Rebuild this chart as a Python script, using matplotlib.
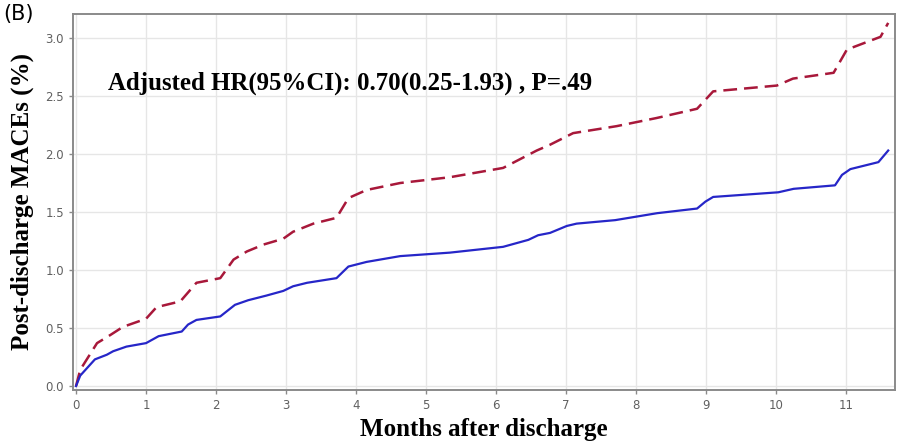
"""Cumulative post-discharge MACEs, panel (B)."""

import numpy as np
import matplotlib
matplotlib.use("Agg")
import matplotlib.pyplot as plt

# Dashed (red) group
red_months = [0.0, 0.06, 0.30, 0.49, 0.67, 1.00, 1.15, 1.49, 1.72, 2.06,
              2.25, 2.44, 2.68, 2.96, 3.10, 3.39, 3.72, 3.89, 4.15, 4.63,
              5.34, 6.10, 6.58, 6.77, 7.10, 7.72, 8.29, 8.87, 9.10, 10.01,
              10.24, 10.82, 11.01, 11.49, 11.60]
red_maces = [0.00, 0.14, 0.37, 0.44, 0.51, 0.58, 0.68, 0.73, 0.89, 0.93,
             1.09, 1.16, 1.22, 1.27, 1.33, 1.40, 1.45, 1.62, 1.69, 1.75,
             1.80, 1.88, 2.03, 2.08, 2.18, 2.24, 2.31, 2.39, 2.54, 2.59,
             2.65, 2.70, 2.90, 3.01, 3.13]

# Solid (blue) group
blue_months = [0.0, 0.06, 0.18, 0.27, 0.44, 0.53, 0.72, 1.00, 1.18, 1.51,
               1.60, 1.72, 2.06, 2.27, 2.46, 2.72, 2.96, 3.10, 3.30, 3.72,
               3.89, 4.15, 4.63, 5.34, 6.10, 6.46, 6.60, 6.77, 7.01, 7.15,
               7.70, 8.30, 8.87, 8.99, 9.10, 10.03, 10.25, 10.84, 10.94,
               11.06, 11.46, 11.60]
blue_maces = [0.00, 0.09, 0.17, 0.23, 0.27, 0.30, 0.34, 0.37, 0.43, 0.47,
              0.53, 0.57, 0.60, 0.70, 0.74, 0.78, 0.82, 0.86, 0.89, 0.93,
              1.03, 1.07, 1.12, 1.15, 1.20, 1.26, 1.30, 1.32, 1.38, 1.40,
              1.43, 1.49, 1.53, 1.59, 1.63, 1.67, 1.70, 1.73, 1.82,
              1.87, 1.93, 2.03]

x_ticks = list(range(0, 12))
y_ticks = [0.0, 0.5, 1.0, 1.5, 2.0, 2.5, 3.0]
annotation = "Adjusted HR(95%CI): 0.70(0.25-1.93) , P=.49"

fig = plt.figure(figsize=(9.07, 4.45), dpi=100)
ax = fig.add_axes([0.0805, 0.1236, 0.9065, 0.845])

ax.plot(red_months, red_maces, color="#a8183a", lw=1.8,
        dashes=(5.5, 2.8))
ax.plot(blue_months, blue_maces, color="#2626c8", lw=1.6)

ax.set_xlim(-0.043, 11.7)
ax.set_ylim(-0.034, 3.207)
ax.set_xticks(x_ticks)
ax.set_yticks(y_ticks)
ax.set_yticklabels([f"{v:.1f}" for v in y_ticks])
ax.grid(True, color="#e6e6e6", lw=1.0)
ax.set_axisbelow(True)

for side in ax.spines.values():
    side.set_color("#8a8a8a")
    side.set_linewidth(1.4)
ax.tick_params(colors="#8a8a8a", labelcolor="#606060", labelsize=8.5,
               length=3, width=1)

serif = ["Liberation Serif", "DejaVu Serif"]
ax.set_xlabel("Months after discharge", fontsize=18, fontweight="bold",
              family=serif, labelpad=4)
ax.set_ylabel("Post-discharge MACEs (%)", fontsize=18, fontweight="bold",
              family=serif, labelpad=8)
ax.text(0.46, 2.61, annotation, fontsize=17.9, fontweight="bold",
        family=serif, va="center", ha="left")
fig.text(0.004, 0.99, "(B)", fontsize=15, va="top", ha="left")

fig.savefig("out.png", dpi=100)
